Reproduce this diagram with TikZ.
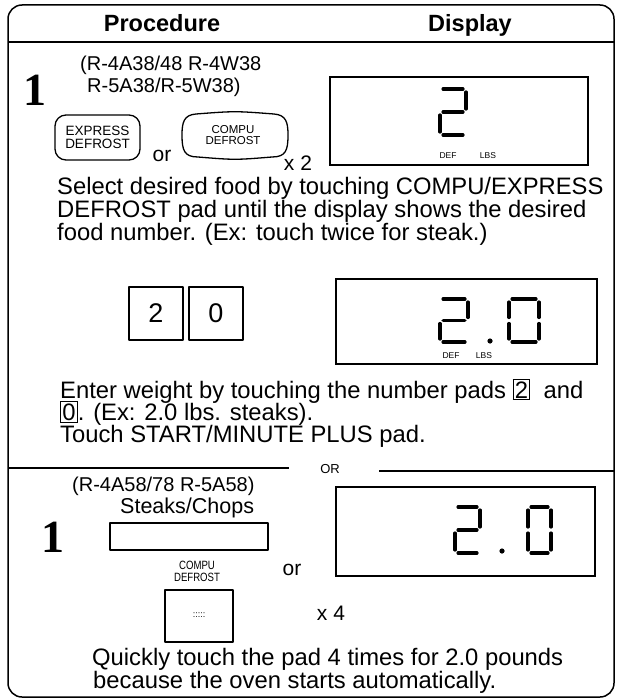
\documentclass[tikz,border=0pt]{standalone}
\usepackage{fontspec}
\setmainfont{Liberation Sans}
\newfontfamily\onefont{Liberation Serif}
\newfontfamily\condfont{Liberation Sans}[FakeStretch=0.8]
\newcommand{\fs}[1]{\fontsize{#1}{#1}\selectfont}
\newcommand{\kbox}[1]{{\fboxsep=1.3pt\fboxrule=0.9pt\fbox{#1}}}
% seven-segment helpers: origin x,y (top-left of centre lines), width, height
\newcommand{\segset}[4]{\def\sx{#1}\def\sy{#2}\def\sw{#3}\def\sh{#4}}
\def\sg{3.2}
\newcommand{\sA}{\draw[seg] ({\sx+\sg},{\sy}) -- ({\sx+\sw-\sg},{\sy});}
\newcommand{\sB}{\draw[seg] ({\sx+\sw},{\sy+\sg}) -- ({\sx+\sw},{\sy+\sh/2-\sg});}
\newcommand{\sC}{\draw[seg] ({\sx+\sw},{\sy+\sh/2+\sg}) -- ({\sx+\sw},{\sy+\sh-\sg});}
\newcommand{\sD}{\draw[seg] ({\sx+\sg},{\sy+\sh}) -- ({\sx+\sw-\sg},{\sy+\sh});}
\newcommand{\sE}{\draw[seg] ({\sx},{\sy+\sh/2+\sg}) -- ({\sx},{\sy+\sh-\sg});}
\newcommand{\sF}{\draw[seg] ({\sx},{\sy+\sg}) -- ({\sx},{\sy+\sh/2-\sg});}
\newcommand{\sG}{\draw[seg] ({\sx+\sg},{\sy+\sh/2}) -- ({\sx+\sw-\sg},{\sy+\sh/2});}
\newcommand{\digtwo}[4]{\segset{#1}{#2}{#3}{#4}\sA\sB\sG\sE\sD}
\newcommand{\digzero}[4]{\segset{#1}{#2}{#3}{#4}\sA\sB\sC\sD\sE\sF}
\tikzset{
  frame/.style={draw, line width=1.5pt, rounded corners=14pt},
  rule/.style={line width=1.3pt},
  lcd/.style={line width=1.4pt},
  seg/.style={line width=3.6pt, line cap=round},
  padbox/.style={draw, line width=1.3pt, line join=round},
  body/.style={anchor=base west, inner sep=0pt, font=\fs{23.8}},
  model/.style={anchor=base west, inner sep=0pt, font=\fs{20}},
  head/.style={anchor=base, inner sep=0pt, font=\bfseries\fs{23.5}},
  bigone/.style={inner sep=0pt, font=\onefont\bfseries\fs{46}},
  lcdlbl/.style={inner sep=0pt, font=\fs{8.5}},
  lbl/.style={inner sep=0pt, font=\fs{21}},
}
\begin{document}
\begin{tikzpicture}[x=1pt,y=-1pt]
\useasboundingbox (0,0) rectangle (620,698);
\fill[white] (0,0) rectangle (620,698);
% frame and header
\draw[frame] (8,5) rectangle (614,697);
\node[head] (hp) at (162,32) {Procedure};
\node[head] (hd) at (470,32) {Display};
\draw[rule] (8,42) -- (614,42);

% ---- section 1
\node[bigone] (one1) at (35,90) {1};
\node[model] (m1a) at (80,71) {(R-4A38/48 R-4W38};
\node[model] (m1b) at (87,93) {R-5A38/R-5W38)};
\node[padbox, rounded corners=11pt, minimum width=85pt, minimum height=45pt,
      align=center, inner sep=0pt, font=\fs{13.5}] (exp) at (97.5,137.5) {EXPRESS\\DEFROST};
\node[lbl] (or1) at (162,156) {or};
\draw[padbox] (196,114) .. controls (235,111) .. (274,114)
  .. controls (286,115) and (288,122) .. (288,135)
  .. controls (288,150) and (286,157) .. (272,157)
  .. controls (235,160) .. (198,157)
  .. controls (184,157) and (182,150) .. (182,135)
  .. controls (182,122) and (184,115) .. (196,114);
\node[align=center, inner sep=0pt, font=\fs{11.5}] (cmp1) at (233,135) {COMPU\\DEFROST};
\node[lbl] (x2) at (298,163) {x 2};
\draw[lcd] (330,77) rectangle (588,165);
\digtwo{440}{89}{26}{46}
\node[lcdlbl] (def1) at (448,156) {DEF};
\node[lcdlbl] (lbs1) at (488,156) {LBS};
\node[body] (t1a) at (57,194) {Select desired food by touching COMPU/EXPRESS};
\node[body] (t1b) at (57,217) {DEFROST pad until the display shows the desired};
\node[body] (t1c) at (57,240) {food number. (Ex: touch twice for steak.)};

% ---- section 2
\node[padbox, minimum width=54pt, minimum height=53pt, font=\fs{27}] (k2) at (156,313.5) {2};
\node[padbox, minimum width=54pt, minimum height=53pt, font=\fs{27}] (k0) at (216,313.5) {0};
\draw[lcd] (336,279) rectangle (597,364);
\digtwo{440}{299}{28}{43}
\fill (490,341) circle (2.6);
\digzero{509}{299}{30}{43}
\node[lcdlbl] (def2) at (451,356) {DEF};
\node[lcdlbl] (lbs2) at (484,356) {LBS};
\node[body] (t2a) at (60,398) {Enter weight by touching the number pads \kbox{2}\ \ and};
\node[body] (t2b) at (60,420) {\kbox{0}. (Ex: 2.0 lbs. steaks).};
\node[body] (t2c) at (60,442) {Touch START/MINUTE PLUS pad.};

% ---- divider
\draw[rule] (8,468) -- (289,468);
\node[inner sep=0pt, font=\fs{13}] (ortxt) at (330,469) {OR};
\draw[rule] (379,471) -- (614,471);

% ---- section 3
\node[model] (m2) at (72,491) {(R-4A58/78 R-5A58)};
\node[body, font=\fs{21.5}] (sc) at (120,513) {Steaks/Chops};
\node[bigone] (one2) at (53,537) {1};
\draw[padbox] (110,523) rectangle (268,550);
\node[align=center, inner sep=0pt, font=\condfont\fs{12}] (cmp2) at (197,571) {COMPU\\DEFROST};
\node[lbl] (or2) at (292,570) {or};
\draw[padbox] (165,590) rectangle (233,642);
\node[inner sep=0pt, font=\fs{9}] (dots) at (199,615) {:::::};
\node[lbl] (x4) at (331,613) {x 4};
\draw[lcd] (336,487) rectangle (595,576);
\digtwo{455}{507}{25}{46}
\fill (502,551) circle (2.6);
\digzero{528}{507}{23}{46}
\node[body] (q1) at (92,665) {Quickly touch the pad 4 times for 2.0 pounds};
\node[body] (q2) at (93,688) {because the oven starts automatically.};
\end{tikzpicture}
\end{document}
